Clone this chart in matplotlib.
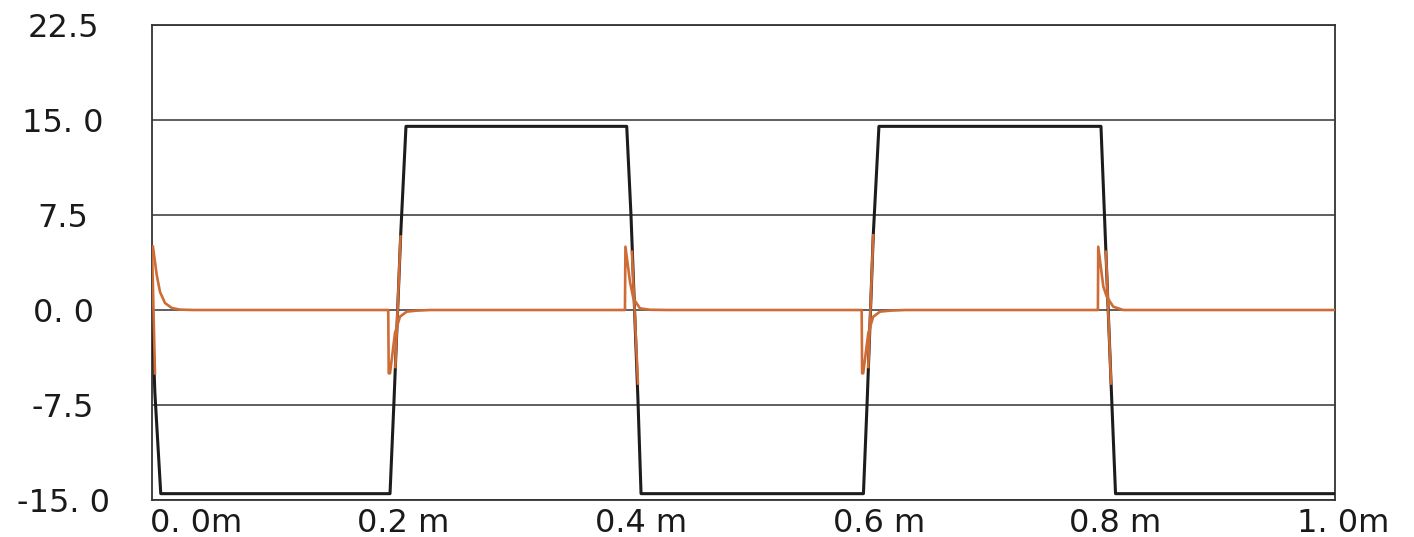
import numpy as np
import matplotlib
matplotlib.use("Agg")
import matplotlib.pyplot as plt
from matplotlib.transforms import offset_copy

# black trace: square wave (time in m-units, value)
black_t = [0.0, 0.0024, 0.0074, 0.2012, 0.2046, 0.2102, 0.2147,
           0.4013, 0.4049, 0.4108, 0.4134, 0.6014, 0.6046, 0.6097, 0.6145,
           0.8022, 0.8113, 0.8145, 1.0]
black_v = [0.0, -6.5, -14.5, -14.5, -7.1, 5.9, 14.5,
           14.5, 7.5, -7.1, -14.5, -14.5, -7.1, 5.9, 14.5,
           14.5, -7.1, -14.5, -14.5]

# orange trace: spikes + decay at each edge
orange_t = [0.0008, 0.0040, 0.0068, 0.0110, 0.0167, 0.0237, 0.0350,
            0.1997, 0.2001, 0.2012, 0.2054, 0.2096, 0.2153, 0.2238, 0.2350,
            0.3998, 0.4002, 0.4041, 0.4069, 0.4125, 0.4210, 0.4350,
            0.5999, 0.6003, 0.6012, 0.6055, 0.6097, 0.6154, 0.6239, 0.6365,
            0.7996, 0.7999, 0.8042, 0.8071, 0.8126, 0.8211, 0.8350, 1.0]
orange_v = [5.0, 2.76, 1.42, 0.55, 0.16, 0.03, 0.0,
            0.0, -5.0, -5.0, -1.82, -0.53, -0.13, -0.05, 0.0,
            0.0, 5.0, 2.2, 0.92, 0.13, 0.02, 0.0,
            0.0, -5.0, -5.0, -1.82, -0.53, -0.13, -0.05, 0.0,
            0.0, 5.0, 1.84, 1.05, 0.26, 0.0, 0.0, 0.0]

# orange pieces lying on top of the black edges
edge_t = [[0.0, 0.0025], [0.2057, 0.2101], [0.4057, 0.4108],
          [0.6055, 0.6097], [0.8064, 0.8107]]
edge_v = [[5.0, -5.0], [-4.5, 5.8], [4.6, -5.8], [-4.5, 5.9], [4.6, -5.8]]

y_ticks = [-15.0, -7.5, 0.0, 7.5, 15.0, 22.5]
y_labels = ["-15. 0", "-7.5", "0. 0", "7.5", "15. 0", "22.5"]
x_ticks = [0.0, 0.2, 0.4, 0.6, 0.8, 1.0]
x_labels = ["0. 0m", "0.2 m", "0.4 m", "0.6 m", "0.8 m", "1. 0m"]

plt.rcParams['font.family'] = ['DejaVu Sans']

fig = plt.figure(figsize=(14.14, 5.37), dpi=100)
ax = fig.add_axes([0.1075, 0.0689, 0.8366, 0.8845])

black = "#1c1c1c"
orange = "#cf6c35"

ax.plot(black_t, black_v, color=black, lw=2.2, zorder=3)
ax.plot(orange_t, orange_v, color=orange, lw=1.9, zorder=4)
for et, ev in zip(edge_t, edge_v):
    ax.plot(et, ev, color=orange, lw=1.9, zorder=4)

ax.set_xlim(0, 1)
ax.set_ylim(-15, 22.5)

ax.set_yticks(y_ticks)
ax.set_yticklabels(y_labels, fontsize=23, color="#1a1a1a")
for lbl in ax.get_yticklabels():
    lbl.set_horizontalalignment("center")
ax.tick_params(axis="y", length=0, pad=64)
ax.yaxis.grid(True, color="#333333", lw=1.1)
ax.set_axisbelow(True)

# x labels: number centred under the tick, unit appended (first one clamped)
ax.set_xticks(x_ticks)
ax.set_xticklabels([])
ax.tick_params(axis="x", length=0)
x_shift = [-1.5, -23, -22, -21, -21, -27]
for xt, lab, dx in zip(x_ticks, x_labels, x_shift):
    tr = offset_copy(ax.get_xaxis_transform(), fig=fig, x=dx, y=-6, units="points")
    ax.text(xt, 0, lab, transform=tr, ha="left", va="top",
            fontsize=23, color="#1a1a1a")

for s in ax.spines.values():
    s.set_color("#333333")
    s.set_linewidth(1.3)

fig.savefig("out.png", dpi=100)
